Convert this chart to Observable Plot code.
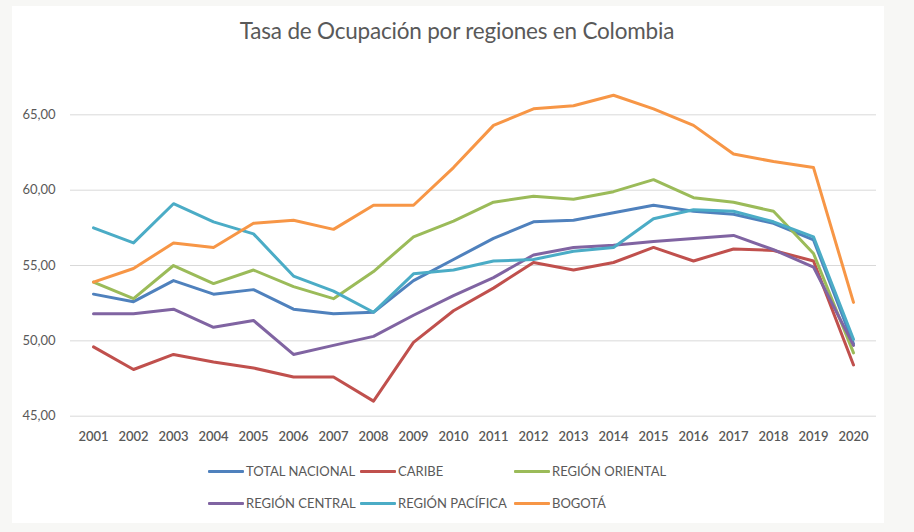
<!DOCTYPE html>
<html>
<head>
<meta charset="utf-8">
<script src="https://cdn.jsdelivr.net/npm/d3@7"></script>
<script src="https://cdn.jsdelivr.net/npm/@observablehq/plot@0.6"></script>
<style>
  html, body { margin: 0; padding: 0; }
  body { width: 914px; height: 532px; background: #f7f7f5; position: relative; overflow: hidden; font-family: Lato, "Open Sans", sans-serif; }
  #card { position: absolute; left: 12px; top: 6px; width: 872px; height: 517px; background: #ffffff; }
  #title { position: absolute; left: 0; top: 17px; width: 914px; text-align: center; font-size: 22.5px; color: #595959; letter-spacing: -0.2px; }
  #chart { position: absolute; left: 0; top: 60px; }
  #legend { position: absolute; left: 0; top: 0; }
  .item { position: absolute; display: flex; align-items: center; font-size: 13px; color: #595959; white-space: nowrap; }
  .sw { width: 36px; height: 3px; margin-right: 2px; border-radius: 1px; }
</style>
</head>
<body>
<div id="card"></div>
<div id="title">Tasa de Ocupación por regiones en Colombia</div>
<div id="chart"></div>
<div id="legend"></div>
<script>
const years = [2001, 2002, 2003, 2004, 2005, 2006, 2007, 2008, 2009, 2010, 2011, 2012, 2013, 2014, 2015, 2016, 2017, 2018, 2019, 2020];
const seriesNames = ["TOTAL NACIONAL", "CARIBE", "REGIÓN ORIENTAL", "REGIÓN CENTRAL", "REGIÓN PACÍFICA", "BOGOTÁ"];
const seriesColors = ["#4f81bd", "#c0504d", "#9bbb59", "#8064a2", "#4bacc6", "#f79646"];
const totalNacional = [53.1, 52.6, 54.0, 53.1, 53.4, 52.1, 51.8, 51.9, 54.0, 55.4, 56.8, 57.9, 58.0, 58.5, 59.0, 58.6, 58.4, 57.8, 56.7, 49.8];
const caribe = [49.6, 48.1, 49.1, 48.6, 48.2, 47.6, 47.6, 46.0, 49.9, 52.0, 53.5, 55.2, 54.7, 55.2, 56.2, 55.3, 56.1, 56.0, 55.3, 48.4];
const regionOriental = [53.9, 52.8, 55.0, 53.8, 54.7, 53.6, 52.8, 54.6, 56.9, 57.95, 59.2, 59.6, 59.4, 59.9, 60.7, 59.5, 59.2, 58.6, 55.8, 49.2];
const regionCentral = [51.8, 51.8, 52.1, 50.9, 51.35, 49.1, 49.7, 50.3, 51.7, 53.0, 54.2, 55.7, 56.2, 56.35, 56.6, 56.8, 57.0, 56.05, 54.9, 49.7];
const regionPacifica = [57.5, 56.5, 59.1, 57.9, 57.1, 54.3, 53.3, 51.9, 54.45, 54.7, 55.3, 55.4, 55.95, 56.2, 58.1, 58.7, 58.6, 57.9, 56.9, 50.1];
const bogota = [53.9, 54.8, 56.5, 56.2, 57.8, 58.0, 57.4, 59.0, 59.0, 61.5, 64.3, 65.4, 65.6, 66.3, 65.4, 64.3, 62.4, 61.9, 61.5, 52.55];
const yTicks = [45, 50, 55, 60, 65];

const seriesValues = [totalNacional, caribe, regionOriental, regionCentral, regionPacifica, bogota];
const data = [];
seriesNames.forEach((name, i) => {
  years.forEach((yr, j) => data.push({ series: name, year: yr, value: seriesValues[i][j] }));
});

const fmt = d => d.toFixed(2).replace(".", ",");

const chart = Plot.plot({
  width: 914,
  height: 400,
  marginLeft: 70,
  marginRight: 38,
  marginTop: 24.2,
  marginBottom: 44.3,
  style: { fontFamily: "Lato, 'Open Sans', sans-serif", background: "transparent", color: "#595959" },
  x: { type: "point", domain: years, padding: 0.5, label: null },
  y: { domain: [45, 67], label: null },
  color: { domain: seriesNames, range: seriesColors },
  marks: [
    Plot.ruleY(yTicks, { stroke: "#d9d9d9", strokeWidth: 1 }),
    Plot.axisY(yTicks, { tickSize: 0, tickPadding: 15, tickFormat: fmt, fontSize: 13, fill: "#595959", label: null }),
    Plot.axisX({ tickSize: 0, tickPadding: 16, tickFormat: d => String(d), fontSize: 13, fontWeight: 600, fill: "#595959", label: null }),
    Plot.line(data, { x: "year", y: "value", z: "series", stroke: "series", strokeWidth: 3, strokeLinejoin: "round", strokeLinecap: "round" })
  ]
});
document.getElementById("chart").appendChild(chart);

const legendPos = [[208, 471], [360, 471], [514, 471], [208, 503], [360, 503], [514, 503]];
const legend = document.getElementById("legend");
seriesNames.forEach((name, i) => {
  const it = document.createElement("div");
  it.className = "item";
  it.style.left = legendPos[i][0] + "px";
  it.style.top = (legendPos[i][1] - 9) + "px";
  it.style.height = "18px";
  const sw = document.createElement("div");
  sw.className = "sw";
  sw.style.background = seriesColors[i];
  const tx = document.createElement("span");
  tx.textContent = name;
  it.appendChild(sw);
  it.appendChild(tx);
  legend.appendChild(it);
});
</script>
</body>
</html>
